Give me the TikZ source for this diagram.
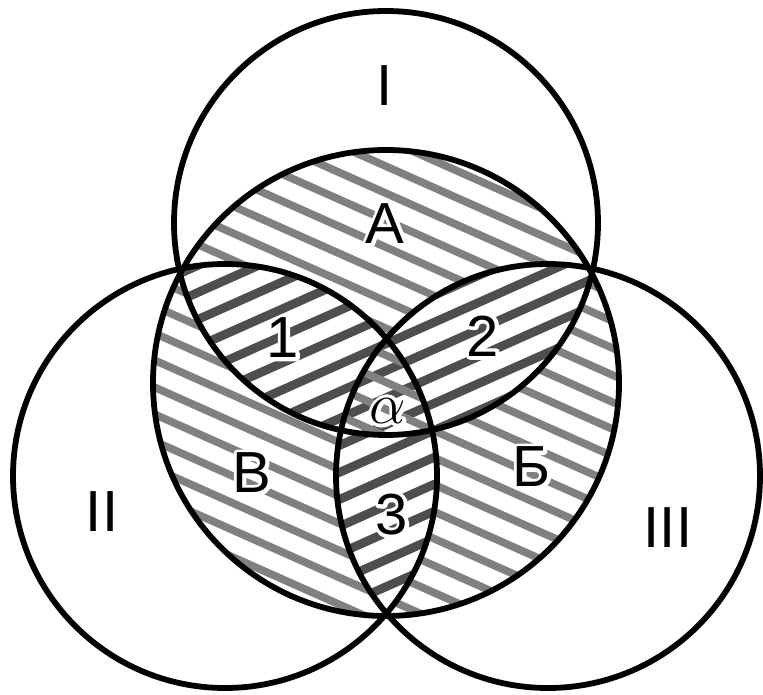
\RequirePackage{fix-cm}
\documentclass[tikz,border=0pt]{standalone}
\usepackage{fontspec}
\setmainfont{Liberation Sans}
\usetikzlibrary{positioning}
\definecolor{hatchlight}{RGB}{128,128,128}
\definecolor{hatchdark}{RGB}{78,78,78}
% white rim round a label
\newcommand{\rimtext}[1]{\special{pdf:literal direct q 1 Tr 1 1 1 RG 1 j 1 J 4 w}#1\special{pdf:literal direct Q}}
\newcommand{\rimmed}[1]{\rlap{\rimtext{#1}}#1}

\begin{document}
\begin{tikzpicture}[x=0.02cm,y=-0.02cm,
  ring/.style={draw=black,line width=3.3pt},
  lightstripe/.style={draw=hatchlight,line width=4.4pt},
  darkstripe/.style={draw=hatchdark,line width=5pt},
  lbl/.style={font=\fontsize{33}{33}\selectfont,inner sep=0pt}]
  \useasboundingbox (0,0) rectangle (763,695);

  \coordinate (cI) at (386,223);
  \coordinate (cII) at (225,476);
  \coordinate (cIII) at (548,476);
  \coordinate (cD) at (386,383);

  % light hatching on the whole inner disk
  \begin{scope}
    \clip (cD) circle (233);
    \foreach \c in {-150,-123,...,680}
      \draw[lightstripe] (100,\c) -- ++(600,267);
  \end{scope}

  % overlaps of two circles: hatching the other way
  \foreach \p/\q in {cI/cII,cI/cIII,cII/cIII}{
    \begin{scope}
      \clip (\p) circle (212);
      \clip (\q) circle (212);
      \fill[white] (cD) circle (240);
      \foreach \c in {120,147,...,930}
        \draw[darkstripe] (100,\c) -- ++(600,-267);
    \end{scope}
  }

  % overlap of all three
  \begin{scope}
    \clip (cI) circle (212);
    \clip (cII) circle (212);
    \clip (cIII) circle (212);
    \foreach \c in {-150,-123,...,680}
      \draw[lightstripe] (100,\c) -- ++(600,267);
  \end{scope}

  \draw[ring] (cD) circle (233);
  \foreach \p in {cI,cII,cIII}
    \draw[ring] (\p) circle (212);

  \node[lbl] (nI) at (385,86) {I};
  \node[lbl] (nII) at (102,512) {II};
  \node[lbl] (nIII) at (668,528) {III};
  \node[lbl] (nA) at (385,224) {\rimmed{А}};
  \node[lbl] (nB) at (252,473) {\rimmed{В}};
  \node[lbl] (nBe) at (532,467) {\rimmed{Б}};
  \node[lbl] (n1) at (283,338) {\rimmed{1}};
  \node[lbl] (n2) at (483,336) {\rimmed{2}};
  \node[lbl] (n3) at (392,515) {\rimmed{3}};
  \node[lbl] (nal) at (388,411) {\rimmed{$\alpha$}};
\end{tikzpicture}
\end{document}
